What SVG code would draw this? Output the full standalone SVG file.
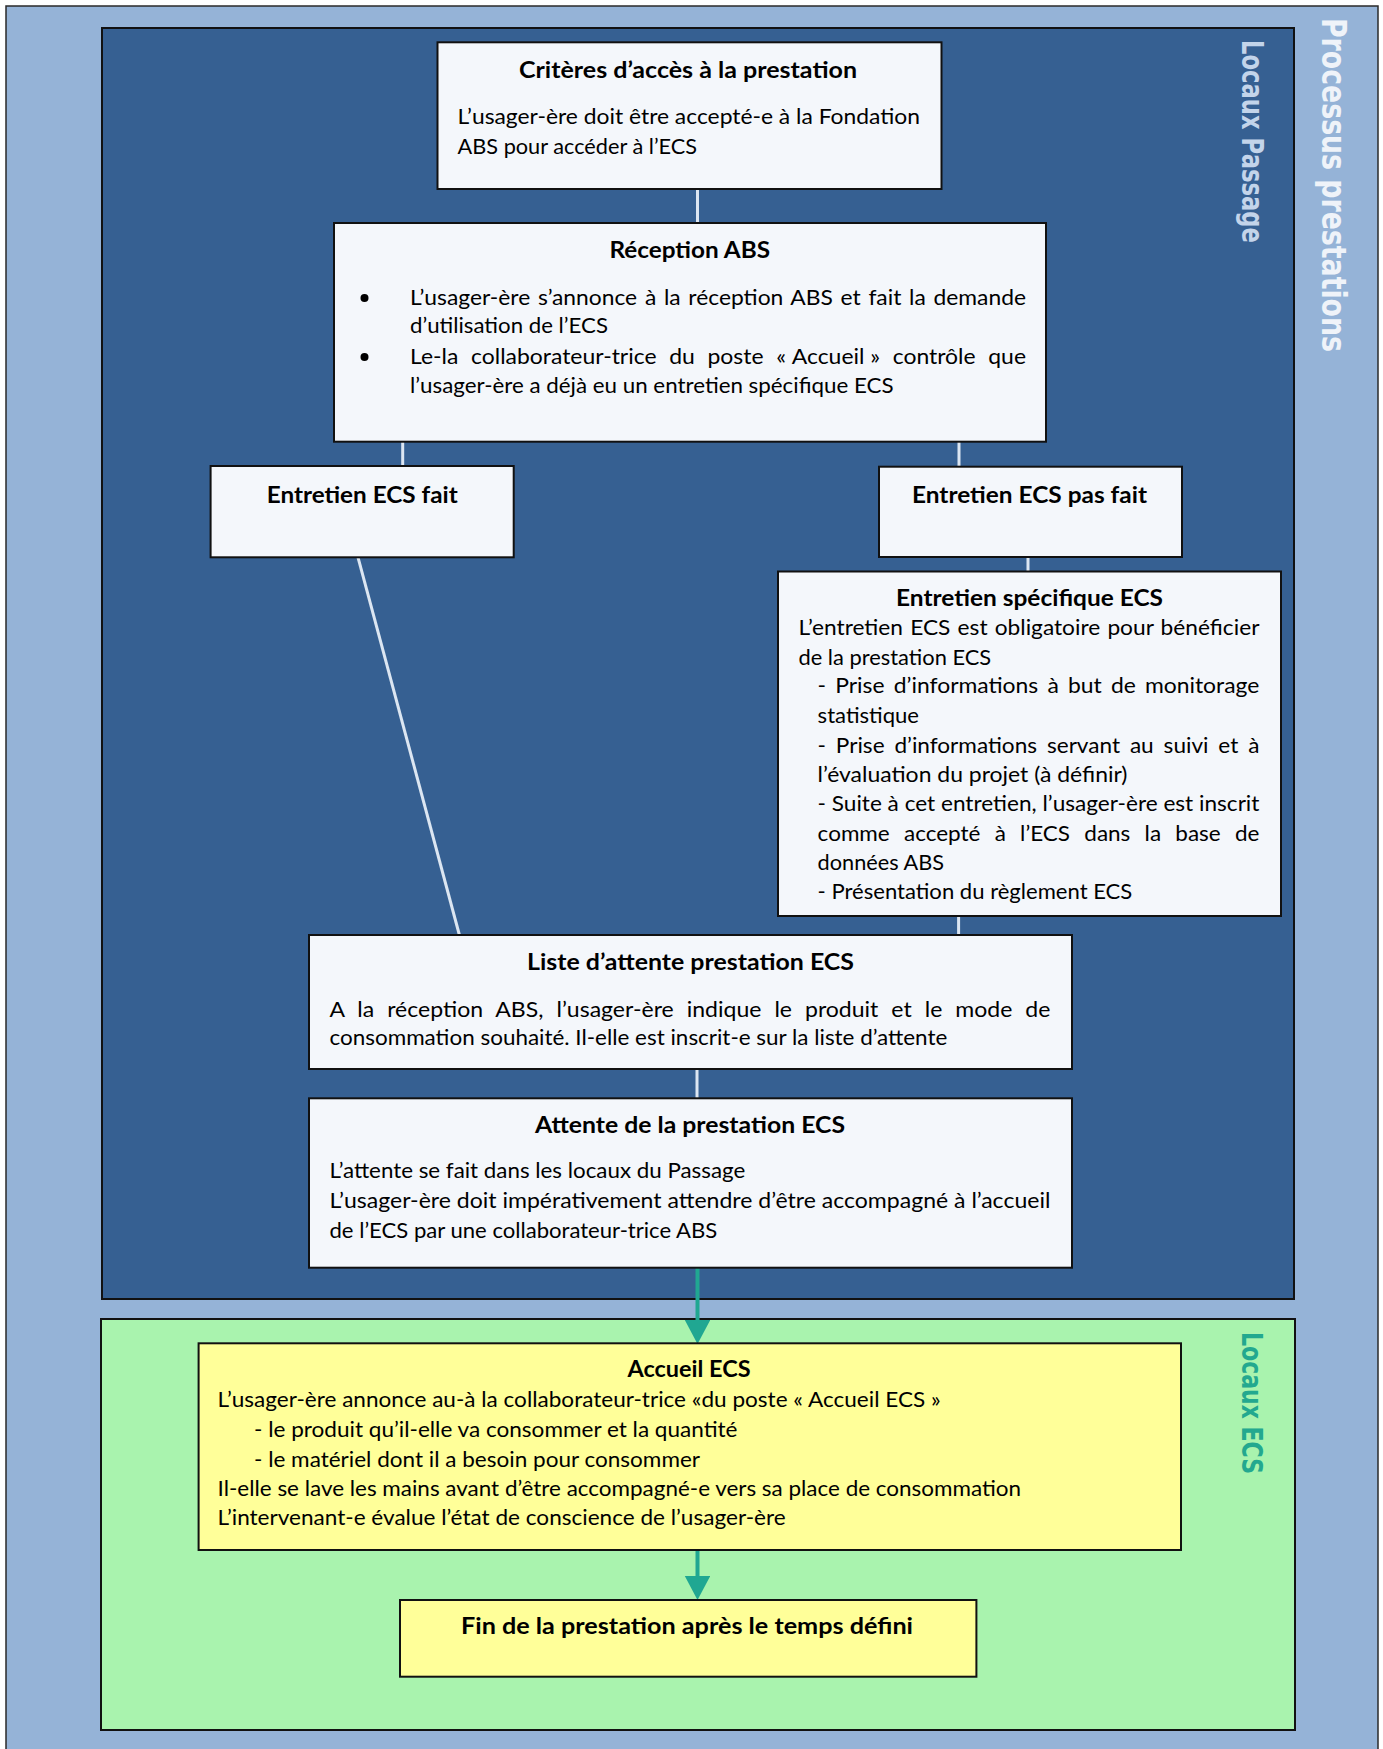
<svg xmlns="http://www.w3.org/2000/svg" width="1383" height="1749" viewBox="0 0 1383 1749">
<style>
.box{fill:#F4F7FB;stroke:#111;stroke-width:2}
.ybox{fill:#FFFF99;stroke:#111;stroke-width:2}
.t{font-family:Lato,"Liberation Sans",sans-serif;font-size:22px;fill:#000}
.b{font-weight:bold}
.m{text-anchor:middle}
.conn{stroke:#DCE6F2;stroke-width:3;fill:none}
.tl{stroke:#20A792;stroke-width:4;fill:none}
.vt{font-family:"DejaVu Sans",Verdana,sans-serif;font-weight:bold}
</style>
<defs>
<marker id="ah" markerUnits="userSpaceOnUse" markerWidth="25" markerHeight="26" refX="0" refY="12.7" orient="auto">
<path d="M0,0 L24,12.7 L0,25.4 Z" fill="#20A792"/>
</marker>
</defs>
<rect width="1383" height="1749" fill="#FFFFFF"/>
<g id="processus">
<rect x="6" y="6" width="1372" height="1760" fill="#95B3D7" stroke="#2A2A2A" stroke-width="1.5"/>
<text class="vt" font-size="26.8" fill="#EFF3F9" transform="translate(1322,18) rotate(90) scale(1,1.28)" textLength="334" lengthAdjust="spacingAndGlyphs">Processus prestations</text>
</g>
<g id="locaux-passage">
<rect x="102" y="28" width="1192" height="1271" fill="#366092" stroke="#111" stroke-width="2"/>
<text class="vt" font-size="22.6" fill="#C3D4EA" transform="translate(1242,40) rotate(90) scale(1,1.3)" textLength="203" lengthAdjust="spacingAndGlyphs">Locaux Passage</text>
</g>
<g id="locaux-ecs">
<rect x="101" y="1319" width="1194" height="411" fill="#A9F3AE" stroke="#111" stroke-width="2"/>
<text class="vt" font-size="22.2" fill="#23A88F" transform="translate(1242,1332) rotate(90) scale(1,1.3)" textLength="142" lengthAdjust="spacingAndGlyphs">Locaux ECS</text>
</g>
<g id="connectors">
<line class="conn" x1="697.5" y1="189" x2="697.5" y2="223"/>
<line class="conn" x1="402.7" y1="441.7" x2="402.7" y2="466"/>
<line class="conn" x1="959" y1="441.7" x2="959" y2="466.7"/>
<line class="conn" x1="1028" y1="557" x2="1028" y2="571.5"/>
<line class="conn" x1="358" y1="557.3" x2="459.4" y2="935"/>
<line class="conn" x1="958.6" y1="916" x2="958.6" y2="935"/>
<line class="conn" x1="697" y1="1069" x2="697" y2="1098.3"/>
<line class="tl" x1="697.5" y1="1267.7" x2="697.5" y2="1320" marker-end="url(#ah)"/>
<line class="tl" x1="697.5" y1="1550" x2="697.5" y2="1576" marker-end="url(#ah)"/>
</g>
<g id="criteres">
<rect class="box" x="437.5" y="42.3" width="504" height="146.7"/>
<text class="t b m" x="688" y="78" textLength="338" lengthAdjust="spacingAndGlyphs">Critères d’accès à la prestation</text>
<text class="t" x="457.6" y="124" textLength="462.4" lengthAdjust="spacingAndGlyphs">L’usager-ère doit être accepté-e à la Fondation</text>
<text class="t" x="457.6" y="154" textLength="239.4" lengthAdjust="spacingAndGlyphs">ABS pour accéder à l’ECS</text>
</g>
<g id="reception">
<rect class="box" x="334" y="223" width="712" height="218.7"/>
<text class="t b m" x="689.7" y="258.3" textLength="160.6" lengthAdjust="spacingAndGlyphs">Réception ABS</text>
<circle cx="364.5" cy="298" r="4" fill="#000"/>
<circle cx="364.5" cy="357" r="4" fill="#000"/>
<text class="t" x="410" y="305" word-spacing="1.8" textLength="616" lengthAdjust="spacingAndGlyphs">L’usager-ère s’annonce à la réception ABS et fait la demande</text>
<text class="t" x="410" y="333.3" textLength="198" lengthAdjust="spacingAndGlyphs">d’utilisation de l’ECS</text>
<text class="t" x="410" y="364" word-spacing="6.5" textLength="616" lengthAdjust="spacingAndGlyphs">Le-la collaborateur-trice du poste «&#8239;Accueil&#8239;» contrôle que</text>
<text class="t" x="410" y="392.5" textLength="483.5" lengthAdjust="spacingAndGlyphs">l’usager-ère a déjà eu un entretien spécifique ECS</text>
</g>
<g id="entretien-fait">
<rect class="box" x="210.6" y="466" width="303.1" height="91.3"/>
<text class="t b m" x="362.2" y="503" textLength="191" lengthAdjust="spacingAndGlyphs">Entretien ECS fait</text>
</g>
<g id="entretien-pas-fait">
<rect class="box" x="879" y="466.7" width="303" height="90.3"/>
<text class="t b m" x="1029.5" y="502.7" textLength="235" lengthAdjust="spacingAndGlyphs">Entretien ECS pas fait</text>
</g>
<g id="entretien-specifique">
<rect class="box" x="778" y="571.5" width="503" height="344.5"/>
<text class="t b m" x="1029.5" y="605.7" textLength="267" lengthAdjust="spacingAndGlyphs">Entretien spécifique ECS</text>
<text class="t" x="798.5" y="635" word-spacing="1.3" textLength="460.9" lengthAdjust="spacingAndGlyphs">L’entretien ECS est obligatoire pour bénéficier</text>
<text class="t" x="798.5" y="665" textLength="192.7" lengthAdjust="spacingAndGlyphs">de la prestation ECS</text>
<text class="t" x="817.6" y="693.3" word-spacing="3.2" textLength="441.8" lengthAdjust="spacingAndGlyphs">- Prise d’informations à but de monitorage</text>
<text class="t" x="817.6" y="723.3" textLength="101.4" lengthAdjust="spacingAndGlyphs">statistique</text>
<text class="t" x="817.6" y="752.7" word-spacing="4" textLength="441.8" lengthAdjust="spacingAndGlyphs">- Prise d’informations servant au suivi et à</text>
<text class="t" x="817.6" y="781.7" textLength="309.9" lengthAdjust="spacingAndGlyphs">l’évaluation du projet (à définir)</text>
<text class="t" x="817.6" y="810.7" textLength="441.8" lengthAdjust="spacingAndGlyphs">- Suite à cet entretien, l’usager-ère est inscrit</text>
<text class="t" x="817.6" y="841" word-spacing="8.3" textLength="441.8" lengthAdjust="spacingAndGlyphs">comme accepté à l’ECS dans la base de</text>
<text class="t" x="817.6" y="870" textLength="126.4" lengthAdjust="spacingAndGlyphs">données ABS</text>
<text class="t" x="817.6" y="899.3" textLength="314.7" lengthAdjust="spacingAndGlyphs">- Présentation du règlement ECS</text>
</g>
<g id="liste-attente">
<rect class="box" x="309" y="935" width="763" height="134"/>
<text class="t b m" x="690.5" y="970" textLength="327" lengthAdjust="spacingAndGlyphs">Liste d’attente prestation ECS</text>
<text class="t" x="329.5" y="1016.7" word-spacing="6.8" textLength="720.9" lengthAdjust="spacingAndGlyphs">A la réception ABS, l’usager-ère indique le produit et le mode de</text>
<text class="t" x="329.5" y="1045" textLength="617.8" lengthAdjust="spacingAndGlyphs">consommation souhaité. Il-elle est inscrit-e sur la liste d’attente</text>
</g>
<g id="attente">
<rect class="box" x="309" y="1098.3" width="763" height="169.4"/>
<text class="t b m" x="690" y="1133.3" textLength="310" lengthAdjust="spacingAndGlyphs">Attente de la prestation ECS</text>
<text class="t" x="329.5" y="1178.3" textLength="415.8" lengthAdjust="spacingAndGlyphs">L’attente se fait dans les locaux du Passage</text>
<text class="t" x="329.5" y="1207.5" textLength="720.9" lengthAdjust="spacingAndGlyphs">L’usager-ère doit impérativement attendre d’être accompagné à l’accueil</text>
<text class="t" x="329.5" y="1237.5" textLength="387.7" lengthAdjust="spacingAndGlyphs">de l’ECS par une collaborateur-trice ABS</text>
</g>
<g id="accueil-ecs">
<rect class="ybox" x="198.6" y="1343.3" width="982.4" height="206.7"/>
<text class="t b m" x="689" y="1377.3" textLength="123" lengthAdjust="spacingAndGlyphs">Accueil ECS</text>
<text class="t" x="217.6" y="1407.3" textLength="723.1" lengthAdjust="spacingAndGlyphs">L’usager-ère annonce au-à la collaborateur-trice «du poste «&#160;Accueil ECS&#160;»</text>
<text class="t" x="254" y="1437.3" textLength="483.5" lengthAdjust="spacingAndGlyphs">- le produit qu’il-elle va consommer et la quantité</text>
<text class="t" x="254" y="1466.7" textLength="446" lengthAdjust="spacingAndGlyphs">- le matériel dont il a besoin pour consommer</text>
<text class="t" x="217.6" y="1496" textLength="803.4" lengthAdjust="spacingAndGlyphs">Il-elle se lave les mains avant d’être accompagné-e vers sa place de consommation</text>
<text class="t" x="217.6" y="1525" textLength="568" lengthAdjust="spacingAndGlyphs">L’intervenant-e évalue l’état de conscience de l’usager-ère</text>
</g>
<g id="fin">
<rect class="ybox" x="400" y="1600" width="576.4" height="76.7"/>
<text class="t b m" x="687" y="1634.3" textLength="452" lengthAdjust="spacingAndGlyphs">Fin de la prestation après le temps défini</text>
</g>
</svg>
